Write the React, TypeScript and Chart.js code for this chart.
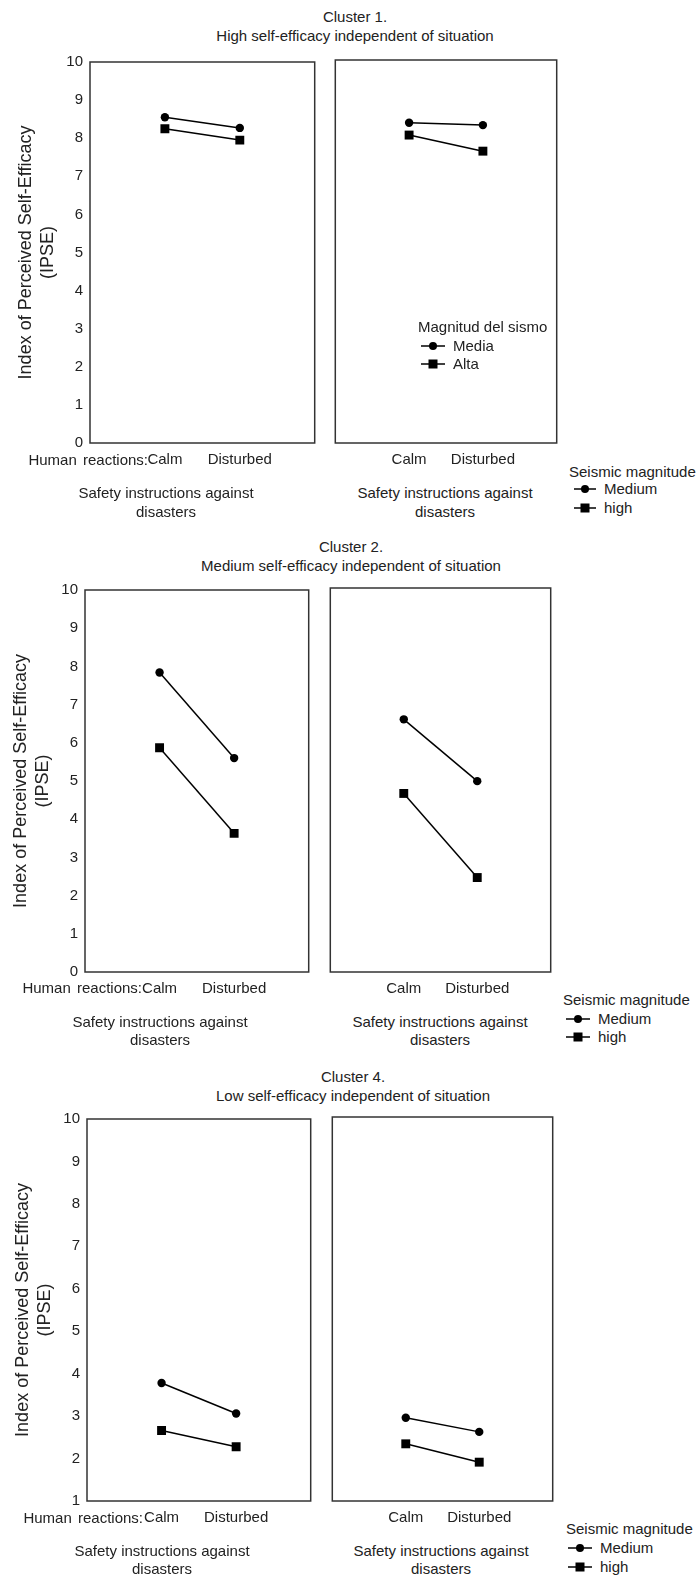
import React, { useEffect, useRef } from "react";
import { Chart, registerables } from "chart.js";

Chart.register(...registerables);

const FONT = '"Liberation Sans", Arial, Helvetica, sans-serif';
const TEXT = "#222";

// ---- data ----
const xCategories = ["", "Calm", "Disturbed", ""];
const yTitleLines = ["Index of Perceived Self-Efficacy", "(IPSE)"];
const seriesNames = ["Medium", "high"];
const innerLegendTitle = "Magnitud del sismo";
const innerLegendNames = ["Media", "Alta"];
const outerLegendTitle = "Seismic magnitude";

const clusterTitles = ["Cluster 1.", "Cluster 2.", "Cluster 4."];
const clusterSubtitles = [
  "High self-efficacy independent of situation",
  "Medium self-efficacy independent of situation",
  "Low self-efficacy independent of situation",
];
const axisGroupLabel = "Human reactions:";
const panelCaption = ["Safety instructions against", "disasters"];

const yRanges = [
  [0, 10],
  [0, 10],
  [1, 10],
];

// Calm, Disturbed
const c1LeftMedium = [8.55, 8.27];
const c1LeftHigh = [8.25, 7.95];
const c1RightMedium = [8.36, 8.3];
const c1RightHigh = [8.04, 7.62];

const c2LeftMedium = [7.84, 5.6];
const c2LeftHigh = [5.87, 3.63];
const c2RightMedium = [6.58, 4.97];
const c2RightHigh = [4.65, 2.46];

const c4LeftMedium = [3.78, 3.06];
const c4LeftHigh = [2.66, 2.28];
const c4RightMedium = [2.95, 2.62];
const c4RightHigh = [2.34, 1.91];

// ---- chart panel ----
const boxPlugin = {
  id: "panelBox",
  afterDraw(chart: any) {
    const { ctx, chartArea } = chart;
    ctx.save();
    ctx.strokeStyle = "#333";
    ctx.lineWidth = 1.5;
    ctx.strokeRect(
      chartArea.left,
      chartArea.top,
      chartArea.right - chartArea.left,
      chartArea.bottom - chartArea.top
    );
    ctx.restore();
  },
};

type PanelProps = {
  x0: number;
  x1: number;
  y0: number;
  y1: number;
  medium: number[];
  high: number[];
  yMin: number;
  yMax: number;
  showY: boolean;
};

function Panel({ x0, x1, y0, y1, medium, high, yMin, yMax, showY }: PanelProps) {
  const ref = useRef<HTMLCanvasElement | null>(null);
  const padTop = 14;
  const xAxisH = 32;
  const padSide = 4;
  const canvasLeft = showY ? 0 : x0 - padSide;
  const canvasTop = y0 - padTop;
  const width = x1 + padSide - canvasLeft;
  const height = y1 - y0 + padTop + xAxisH;

  useEffect(() => {
    if (!ref.current) return;
    const chart = new Chart(ref.current, {
      type: "line",
      data: {
        labels: xCategories,
        datasets: [
          {
            label: seriesNames[0],
            data: [null, medium[0], medium[1], null],
            borderColor: "#000",
            backgroundColor: "#000",
            borderWidth: 1.5,
            pointStyle: "circle",
            pointRadius: 4.2,
            pointBorderWidth: 0,
            spanGaps: false,
          },
          {
            label: seriesNames[1],
            data: [null, high[0], high[1], null],
            borderColor: "#000",
            backgroundColor: "#000",
            borderWidth: 1.5,
            pointStyle: "rect",
            pointRadius: 6.3,
            pointBorderWidth: 0,
            spanGaps: false,
          },
        ],
      },
      options: {
        responsive: false,
        animation: false,
        devicePixelRatio: 1,
        layout: {
          padding: { top: padTop, bottom: 0, left: showY ? 0 : padSide, right: padSide },
        },
        plugins: {
          legend: { display: false },
          tooltip: { enabled: false },
          title: { display: false },
        },
        scales: {
          x: {
            type: "category",
            offset: false,
            grid: { display: false, drawTicks: false },
            border: { display: false },
            ticks: {
              color: TEXT,
              font: { family: FONT, size: 15 },
              padding: 8,
              autoSkip: false,
              maxRotation: 0,
            },
            afterFit: (scale: any) => {
              scale.height = xAxisH;
              scale.paddingLeft = 0;
              scale.paddingRight = 0;
            },
          },
          y: {
            display: showY,
            min: yMin,
            max: yMax,
            grid: { display: false, drawTicks: false },
            border: { display: false },
            ticks: {
              stepSize: 1,
              color: TEXT,
              font: { family: FONT, size: 15 },
              padding: 7,
            },
            title: {
              display: showY,
              text: yTitleLines,
              color: TEXT,
              font: { family: FONT, size: 18, lineHeight: 22 / 18 },
              padding: { top: x0 - 64 - 11, bottom: 0 },
            },
            afterFit: (scale: any) => {
              if (showY) scale.width = x0;
            },
          },
        },
      },
      plugins: [boxPlugin],
    } as any);
    return () => chart.destroy();
  }, []);

  return (
    <div style={{ position: "absolute", left: canvasLeft, top: canvasTop, width, height }}>
      <canvas ref={ref} width={width} height={height} style={{ display: "block", width, height }} />
    </div>
  );
}

// ---- html text helpers ----
function Txt({
  x,
  y,
  children,
  align = "left",
  size = 15,
  wordSpacing = 0,
}: {
  x: number;
  y: number;
  children: React.ReactNode;
  align?: "left" | "center" | "right";
  size?: number;
  wordSpacing?: number;
}) {
  const tx = align === "center" ? "-50%" : align === "right" ? "-100%" : "0";
  return (
    <div
      style={{
        position: "absolute",
        left: x,
        top: y,
        transform: `translate(${tx}, -50%)`,
        whiteSpace: "nowrap",
        fontSize: size,
        lineHeight: 1.2,
        color: TEXT,
        fontFamily: FONT,
        wordSpacing,
      }}
    >
      {children}
    </div>
  );
}

function Symbol({ x, y, w, kind }: { x: number; y: number; w: number; kind: "circle" | "rect" }) {
  return (
    <svg
      style={{ position: "absolute", left: x, top: y - 6 }}
      width={w}
      height={12}
      viewBox={`0 0 ${w} 12`}
    >
      <line x1={0} y1={6} x2={w} y2={6} stroke="#000" strokeWidth={1.5} />
      {kind === "circle" ? (
        <circle cx={w / 2} cy={6} r={4} fill="#000" />
      ) : (
        <rect x={w / 2 - 4.5} y={1.5} width={9} height={9} fill="#000" />
      )}
    </svg>
  );
}

function LegendBlock({
  title,
  names,
  tx,
  ty,
  rows,
  sx,
  sw,
  textX,
}: {
  title: string;
  names: string[];
  tx: number;
  ty: number;
  rows: number[];
  sx: number;
  sw: number;
  textX: number;
}) {
  return (
    <>
      <Txt x={tx} y={ty}>
        {title}
      </Txt>
      <Symbol x={sx} y={rows[0]} w={sw} kind="circle" />
      <Txt x={textX} y={rows[0]}>
        {names[0]}
      </Txt>
      <Symbol x={sx} y={rows[1]} w={sw} kind="rect" />
      <Txt x={textX} y={rows[1]}>
        {names[1]}
      </Txt>
    </>
  );
}

type ClusterLayout = {
  idx: number;
  titleY: number;
  titleX: number;
  left: [number, number];
  right: [number, number];
  y: [number, number];
  labelsY: number;
  groupRight: number;
  captionY: [number, number];
  captionX: [number, number];
  legend: { tx: number; ty: number; rows: number[]; sx: number; sw: number; textX: number };
  data: number[][];
};

const layouts: ClusterLayout[] = [
  {
    idx: 0,
    titleY: 17,
    titleX: 355,
    left: [90, 317],
    right: [333, 559],
    y: [60, 443],
    labelsY: 460,
    groupRight: 148,
    captionY: [493, 512],
    captionX: [166, 445],
    legend: { tx: 569, ty: 472, rows: [489, 508], sx: 574, sw: 22, textX: 604 },
    data: [c1LeftMedium, c1LeftHigh, c1RightMedium, c1RightHigh],
  },
  {
    idx: 1,
    titleY: 547,
    titleX: 351,
    left: [85, 311],
    right: [328, 553],
    y: [588, 972],
    labelsY: 988,
    groupRight: 142,
    captionY: [1022, 1040],
    captionX: [160, 440],
    legend: { tx: 563, ty: 1000, rows: [1019, 1037], sx: 566, sw: 24, textX: 598 },
    data: [c2LeftMedium, c2LeftHigh, c2RightMedium, c2RightHigh],
  },
  {
    idx: 2,
    titleY: 1077,
    titleX: 353,
    left: [87, 313],
    right: [330, 555],
    y: [1117, 1501],
    labelsY: 1518,
    groupRight: 143,
    captionY: [1551, 1569],
    captionX: [162, 441],
    legend: { tx: 566, ty: 1529, rows: [1548, 1567], sx: 568, sw: 24, textX: 600 },
    data: [c4LeftMedium, c4LeftHigh, c4RightMedium, c4RightHigh],
  },
];

function Cluster({ L }: { L: ClusterLayout }) {
  const [yMin, yMax] = yRanges[L.idx];
  return (
    <>
      <Txt x={L.titleX} y={L.titleY} align="center">
        {clusterTitles[L.idx]}
      </Txt>
      <Txt x={L.titleX} y={L.titleY + 19} align="center">
        {clusterSubtitles[L.idx]}
      </Txt>
      <Panel
        x0={L.left[0]}
        x1={L.left[1]}
        y0={L.y[0]}
        y1={L.y[1]}
        medium={L.data[0]}
        high={L.data[1]}
        yMin={yMin}
        yMax={yMax}
        showY={true}
      />
      <Panel
        x0={L.right[0]}
        x1={L.right[1]}
        y0={L.y[0]}
        y1={L.y[1]}
        medium={L.data[2]}
        high={L.data[3]}
        yMin={yMin}
        yMax={yMax}
        showY={false}
      />
      <Txt x={L.groupRight} y={L.labelsY} align="right" wordSpacing={2}>
        {axisGroupLabel}
      </Txt>
      {L.captionX.map((cx, i) => (
        <React.Fragment key={i}>
          <Txt x={cx} y={L.captionY[0]} align="center">
            {panelCaption[0]}
          </Txt>
          <Txt x={cx} y={L.captionY[1]} align="center">
            {panelCaption[1]}
          </Txt>
        </React.Fragment>
      ))}
      <LegendBlock title={outerLegendTitle} names={seriesNames} {...L.legend} />
    </>
  );
}

export default function App() {
  return (
    <div
      style={{
        position: "absolute",
        left: 0,
        top: 0,
        width: 696,
        height: 1576,
        background: "#fff",
        fontFamily: FONT,
        overflow: "hidden",
      }}
    >
      {layouts.map((L) => (
        <Cluster key={L.idx} L={L} />
      ))}
      <LegendBlock
        title={innerLegendTitle}
        names={innerLegendNames}
        tx={418}
        ty={327}
        rows={[346, 364]}
        sx={421}
        sw={24}
        textX={453}
      />
    </div>
  );
}
